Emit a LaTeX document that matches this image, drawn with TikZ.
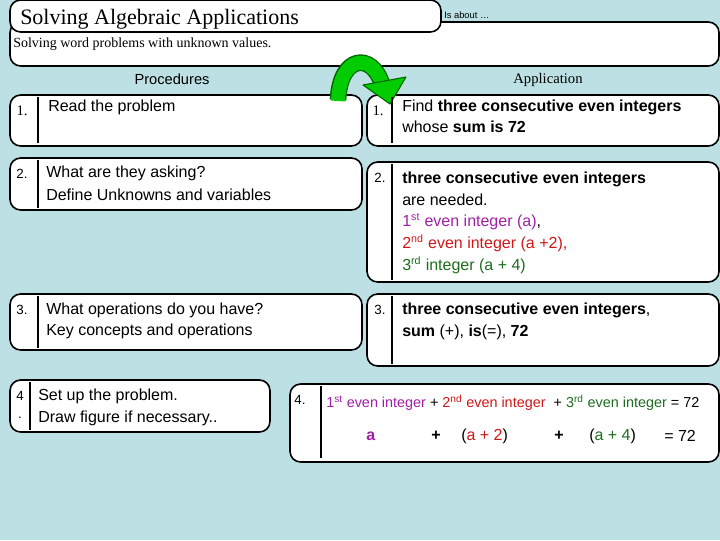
\documentclass[tikz,border=0pt]{standalone}
\usepackage{fontspec}
\setmainfont{Liberation Serif}
\setsansfont{Liberation Sans}
\definecolor{bg}{HTML}{BCE0E3}
\definecolor{mag}{HTML}{A020A8}
\definecolor{rd}{HTML}{D01818}
\definecolor{gr}{HTML}{1E6E1E}
\begin{document}
\begin{tikzpicture}[x=0.75pt,y=-0.75pt,
  box/.style={draw=black,line width=1.2pt,fill=white,rounded corners=8pt},
  txt/.style={anchor=west,inner sep=0pt,font=\sffamily\fontsize{12}{14}\selectfont},
  num/.style={anchor=center,inner sep=0pt,font=\fontsize{11}{13}\selectfont},
  snum/.style={anchor=center,inner sep=0pt,font=\sffamily\fontsize{10}{12}\selectfont},
  divl/.style={line width=0.8pt}]
\fill[bg] (0,0) rectangle (720,540);
\useasboundingbox (0,0) rectangle (720,540);
% header
\draw[box] (10,22) rectangle (719,66);
\draw[box] (10,0) rectangle (441,32);
\node[anchor=west,inner sep=0pt,font=\fontsize{16.5}{18}\selectfont] (title) at (20,19) {Solving Algebraic Applications};
\node[anchor=west,inner sep=0pt,font=\sffamily\fontsize{7}{8}\selectfont] (about) at (444,15) {Is about \dots};
\node[anchor=west,inner sep=0pt,font=\fontsize{10.5}{12}\selectfont] (desc) at (13,44) {Solving word problems with unknown values.};
\node[inner sep=0pt,font=\sffamily\fontsize{11}{13}\selectfont] (proc) at (172,79) {Procedures};
\node[inner sep=0pt,font=\fontsize{11}{13}\selectfont] (appl) at (548,80) {Application};
% left boxes
\draw[box] (10,95) rectangle (362,146);
\draw[box] (10,158) rectangle (362,210);
\draw[box] (10,294) rectangle (362,350);
\draw[box] (10,380) rectangle (270,432);
% right boxes
\draw[box] (367,95) rectangle (719,146);
\draw[box] (367,162) rectangle (719,282);
\draw[box] (367,294) rectangle (719,366);
\draw[box] (290,384) rectangle (719,462);
% green arrow
\draw[line width=12.5pt,green!40!black] (338,100) .. controls (340,55) and (372,52) .. (382,84);
\draw[line width=10.5pt,green!80!black] (338,101) .. controls (340,55) and (372,52) .. (382,84);
\filldraw[fill=green!80!black,draw=green!40!black,line width=0.8pt,line join=round] (363,85) -- (406,77) -- (390,104) -- cycle;
% dividers
\foreach \x/\a/\b in {38/97/143,38/160/208,38/296/348,30/382/430,392/97/143,392/164/280,392/296/364,321/386/458}
  \draw[divl] (\x,\a) -- (\x,\b);
% numbers
\node[num] (n1) at (22,111) {1.};
\node[snum] (n2) at (22,174) {2.};
\node[snum] (n3) at (22,310) {3.};
\node[snum] (n4) at (20,396) {4};
\node[snum] (n4b) at (20,418) {.};
\node[num] (m1) at (378,111) {1.};
\node[snum] (m2) at (380,178) {2.};
\node[snum] (m3) at (380,310) {3.};
\node[snum] (m4) at (300,400) {4.};
% left text
\node[txt] (l1) at (48,107) {Read the problem};
\node[txt] (l2a) at (46,173) {What are they asking?};
\node[txt] (l2b) at (46,195) {Define Unknowns and variables};
\node[txt] (l3a) at (46,310) {What operations do you have?};
\node[txt] (l3b) at (46,331) {Key concepts and operations};
\node[txt] (l4a) at (38,396) {Set up the problem.};
\node[txt] (l4b) at (38,418) {Draw figure if necessary..};
% right text
\node[txt] (r1a) at (402,107) {Find \textbf{three consecutive even integers}};
\node[txt] (r1b) at (402,127) {whose \textbf{sum is 72}};
\node[txt] (r2a) at (402,179) {\textbf{three consecutive even integers}};
\node[txt] (r2b) at (402,200) {are needed.};
\node[txt,text=mag] (r2c) at (402,222) {1\textsuperscript{st} even integer (a)\textcolor{black}{,}};
\node[txt,text=rd] (r2d) at (402,243) {2\textsuperscript{nd} even integer (a +2),};
\node[txt,text=gr] (r2e) at (402,265) {3\textsuperscript{rd} integer (a + 4)};
\node[txt] (r3a) at (402,310) {\textbf{three consecutive even integers},};
\node[txt] (r3b) at (402,332) {\textbf{sum} (+), \textbf{is}(=), \textbf{72}};
\node[txt,font=\sffamily\fontsize{10.8}{12}\selectfont] (r4) at (326,403) {\textcolor{mag}{1\textsuperscript{st} even integer} + \textcolor{rd}{2\textsuperscript{nd} even integer} \ + \textcolor{gr}{3\textsuperscript{rd} even integer} = 72};
\node[txt,text=mag] (e1) at (366,436) {\textbf{a}};
\node[txt] (e2) at (431,436) {\textbf{+}};
\node[txt] (e3) at (461,436) {(\textcolor{rd}{a + 2})};
\node[txt] (e4) at (554,436) {\textbf{+}};
\node[txt] (e5) at (589,436) {(\textcolor{gr}{a + 4})};
\node[txt] (e6) at (664,436) {= 72};
\end{tikzpicture}
\end{document}
